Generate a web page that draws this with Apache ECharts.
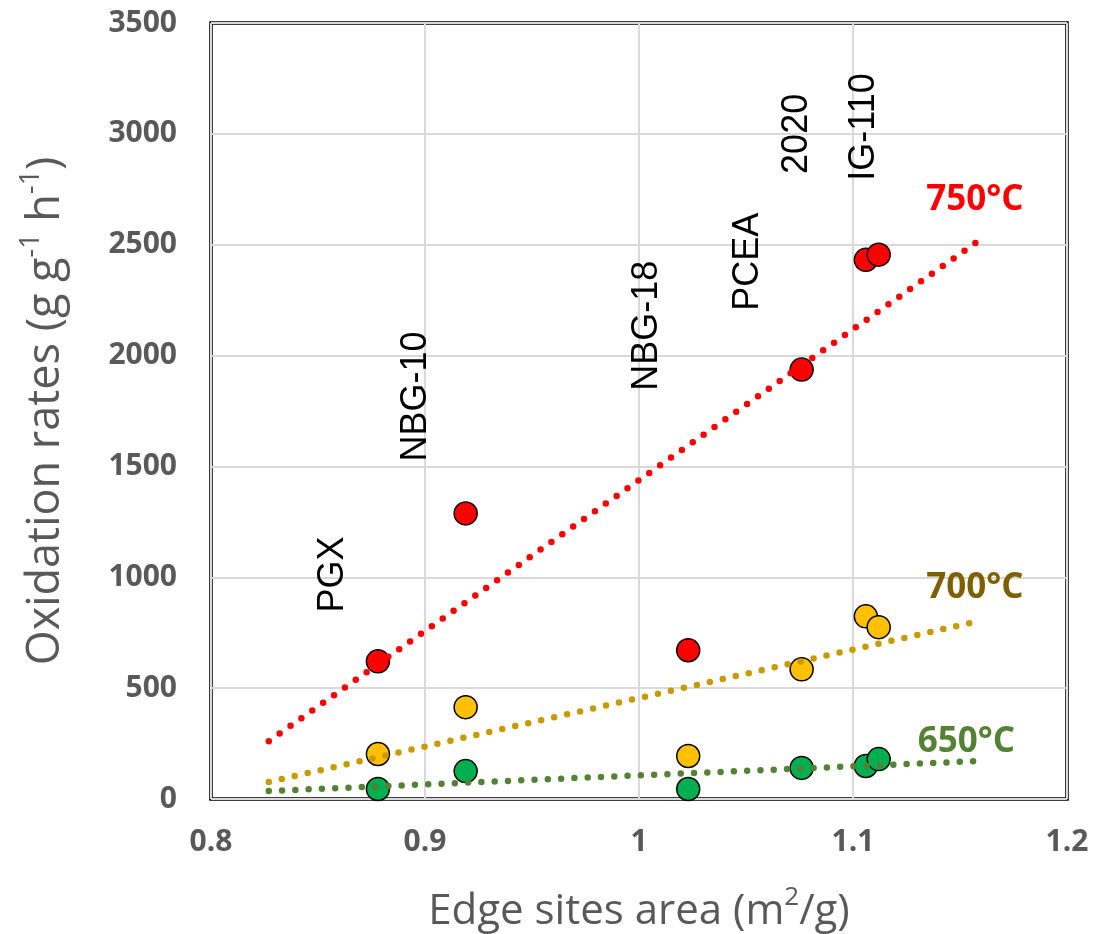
<!DOCTYPE html>
<html>
<head>
<meta charset="utf-8">
<script src="https://cdn.jsdelivr.net/npm/echarts@6/dist/echarts.min.js"></script>
<style>html,body{margin:0;padding:0;background:#fff;}#c{width:1120px;height:934px;}</style>
</head>
<body>
<div id="c"></div>
<script>
// Data
const edgeArea = [0.878, 0.919, 1.023, 1.076, 1.106, 1.112];
const rate750 = [621, 1288, 671, 1937, 2432, 2455];
const rate700 = [203, 414, 194, 585, 824, 775];
const rate650 = [45, 126, 45, 140, 149, 180];
const trend750 = [[0.827, 261], [1.158, 2513]];
const trend700 = [[0.827, 77], [1.158, 801]];
const trend650 = [[0.827, 36], [1.158, 171]];
const sampleLabels = [
  [0.857, 1013, 'PGX'],
  [0.896, 1815, 'NBG-10'],
  [1.004, 2135, 'NBG-18'],
  [1.051, 2423, 'PCEA'],
  [1.074, 3000, '2020'],
  [1.105, 3031, 'IG-110']
];
const tempLabels = [
  [1.157, 2702, '750°C'],
  [1.157, 950, '700°C'],
  [1.153, 257, '650°C']
];
const xTicks = {min: 0.8, max: 1.2, interval: 0.1};
const yTicks = {min: 0, max: 3500, interval: 500};

const markerColors = ['#ff0000', '#ffc000', '#00b050'];
const trendColors = ['#ff0000', '#c99a00', '#548235'];
const tempColors = ['#ff0000', '#7f6000', '#548235'];

const zip = (xs, ys) => xs.map((x, i) => [x, ys[i]]);
const scatterSeries = [rate750, rate700, rate650].map((ys, i) => ({
  type: 'scatter',
  data: zip(edgeArea, ys),
  symbolSize: 23,
  itemStyle: {color: markerColors[i], borderColor: '#000', borderWidth: 1.5, opacity: 1},
  z: 3
}));
const trendSeries = [trend750, trend700, trend650].map((d, i) => ({
  type: 'line',
  data: d,
  symbol: 'none',
  lineStyle: {color: trendColors[i], width: 6.5, type: [0, 13.3], cap: 'round'},
  z: 4
}));

const chart = echarts.init(document.getElementById('c'));
chart.setOption({
  animation: false,
  grid: {left: 211, right: 53, top: 23, bottom: 135, outerBoundsMode: 'none', containLabel: false,
    show: true, borderColor: '#000', borderWidth: 3.5, backgroundColor: 'transparent'},
  xAxis: {
    type: 'value', min: xTicks.min, max: xTicks.max, interval: xTicks.interval,
    axisLine: {show: false}, axisTick: {show: false},
    splitLine: {show: true, lineStyle: {color: '#d9d9d9', width: 2}},
    axisLabel: {color: '#595959', fontFamily: 'Open Sans', fontWeight: 'bold', fontSize: 30, margin: 28,
      formatter: v => String(+v.toFixed(2))},
    name: '{a|Edge sites area (m}{s|2}{a|/g)}',
    nameLocation: 'middle', nameGap: 80,
    nameTextStyle: {
      color: '#595959',
      rich: {
        a: {color: '#595959', fontFamily: 'Open Sans', fontSize: 42, lineHeight: 54, verticalAlign: 'bottom'},
        s: {color: '#595959', fontFamily: 'Open Sans', fontSize: 26, lineHeight: 54, verticalAlign: 'top', padding: [6, 0, 0, 0]}
      }
    }
  },
  yAxis: {
    type: 'value', min: yTicks.min, max: yTicks.max, interval: yTicks.interval,
    axisLine: {show: false}, axisTick: {show: false},
    splitLine: {show: true, lineStyle: {color: '#d9d9d9', width: 2}},
    axisLabel: {color: '#595959', fontFamily: 'Open Sans', fontWeight: 'bold', fontSize: 30, margin: 34,
      formatter: v => String(v)},
    name: '{a|Oxidation rates (g g}{s|-1}{a| h}{s|-1}{a|)}',
    nameLocation: 'middle', nameGap: 142, nameRotate: 90,
    nameTextStyle: {
      color: '#595959',
      rich: {
        a: {color: '#595959', fontFamily: 'Open Sans', fontSize: 45, lineHeight: 58, verticalAlign: 'bottom'},
        s: {color: '#595959', fontFamily: 'Open Sans', fontSize: 27, lineHeight: 58, verticalAlign: 'top', padding: [7, 0, 0, 0]}
      }
    }
  },
  series: [
    ...scatterSeries,
    ...trendSeries,
    {
      type: 'scatter', symbolSize: 1, itemStyle: {color: 'rgba(0,0,0,0)'}, z: 5, silent: true,
      data: sampleLabels.map(d => ({value: [d[0], d[1]], name: d[2]})),
      label: {show: true, formatter: '{b}', position: 'inside', rotate: 90, align: 'center', verticalAlign: 'middle',
        color: '#000', opacity: 1, fontFamily: 'Liberation Sans', fontSize: 36}
    },
    {
      type: 'scatter', symbolSize: 1, itemStyle: {color: 'rgba(0,0,0,0)'}, z: 5, silent: true,
      data: tempLabels.map((d, i) => ({value: [d[0], d[1]], name: d[2],
        label: {color: tempColors[i]}})),
      label: {show: true, formatter: '{b}', position: 'inside', align: 'center', verticalAlign: 'middle',
        opacity: 1, fontFamily: 'Open Sans', fontWeight: 'bold', fontSize: 35}
    }
  ]
});
</script>
</body>
</html>
